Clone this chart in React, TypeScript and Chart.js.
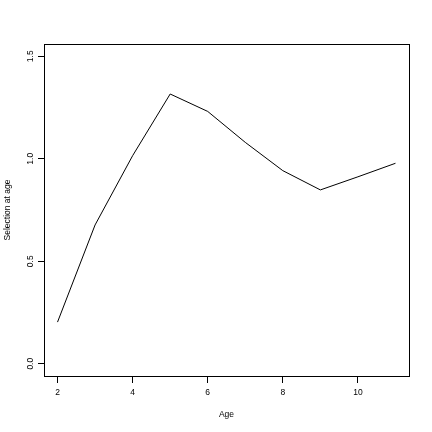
import React, { useEffect, useRef } from "react";
import { Chart, registerables } from "chart.js";

Chart.register(...registerables);

const ages: number[] = [2, 3, 4, 5, 6, 7, 8, 9, 10, 11];
const selection: number[] = [0.203, 0.677, 1.015, 1.316, 1.231, 1.08, 0.942, 0.848, 0.912, 0.978];
const xTicks: number[] = [2, 4, 6, 8, 10];
const yTicks: number[] = [0, 0.5, 1.0, 1.5];
const xTitle = "Age";
const yTitle = "Selection at age";

const FONT = "'Liberation Sans', Arial, Helvetica, sans-serif";

const boxPlugin = {
  id: "boxFrame",
  afterDraw(chart: any) {
    const { ctx, chartArea } = chart;
    ctx.save();
    ctx.strokeStyle = "#000";
    ctx.lineWidth = 1;
    const l = Math.round(chartArea.left) + 0.5;
    const t = Math.round(chartArea.top) + 0.5;
    const r = Math.round(chartArea.right) + 0.5;
    const b = Math.round(chartArea.bottom) + 0.5;
    ctx.strokeRect(l, t, r - l, b - t);
    ctx.restore();
  },
};

export default function App() {
  const ref = useRef<HTMLCanvasElement | null>(null);

  useEffect(() => {
    if (!ref.current) return;
    const chart = new Chart(ref.current, {
      type: "line",
      data: {
        datasets: [
          {
            data: ages.map((a, i) => ({ x: a, y: selection[i] })),
            borderColor: "#000",
            borderWidth: 1,
            pointRadius: 0,
            tension: 0,
            fill: false,
          },
        ],
      },
      options: {
        animation: false,
        responsive: false,
        devicePixelRatio: 1,
        layout: { padding: { left: 0, top: 44, right: 23, bottom: 0 } },
        plugins: { legend: { display: false }, tooltip: { enabled: false } },
        scales: {
          x: {
            type: "linear",
            min: 1.64,
            max: 11.36,
            afterBuildTicks: (s: any) => {
              s.ticks = xTicks.map((v) => ({ value: v }));
            },
            afterFit: (s: any) => {
              s.height = 56;
            },
            border: { display: false },
            grid: {
              display: true,
              drawOnChartArea: false,
              drawTicks: true,
              tickLength: 7,
              tickColor: "#000",
              color: "#000",
            },
            ticks: {
              color: "#000",
              font: { family: FONT, size: 8.5 },
              padding: 5,
              maxRotation: 0,
              minRotation: 0,
              autoSkip: false,
              callback: (v: any) => String(v),
            },
            title: {
              display: true,
              text: xTitle,
              color: "#000",
              font: { family: FONT, size: 8.5 },
              padding: { top: 0, bottom: 12 },
            },
          },
          y: {
            type: "linear",
            min: -0.06,
            max: 1.56,
            afterBuildTicks: (s: any) => {
              s.ticks = yTicks.map((v) => ({ value: v }));
            },
            afterFit: (s: any) => {
              s.width = 44;
            },
            border: { display: false },
            grid: {
              display: true,
              drawOnChartArea: false,
              drawTicks: true,
              tickLength: 6,
              tickColor: "#000",
              color: "#000",
            },
            ticks: {
              color: "#000",
              font: { family: FONT, size: 8.5 },
              padding: 1.5,
              minRotation: 90,
              maxRotation: 90,
              crossAlign: "center",
              autoSkip: false,
              callback: (v: any) => Number(v).toFixed(1),
            },
            title: {
              display: true,
              text: yTitle,
              color: "#000",
              font: { family: FONT, size: 8.5 },
              padding: { top: 3, bottom: 0 },
            },
          },
        },
      },
      plugins: [boxPlugin],
    } as any);
    return () => chart.destroy();
  }, []);

  return (
    <div style={{ position: "fixed", left: 0, top: 0, width: 432, height: 432, background: "#fff" }}>
      <canvas ref={ref} width={432} height={432} style={{ width: 432, height: 432, display: "block" }} />
    </div>
  );
}
